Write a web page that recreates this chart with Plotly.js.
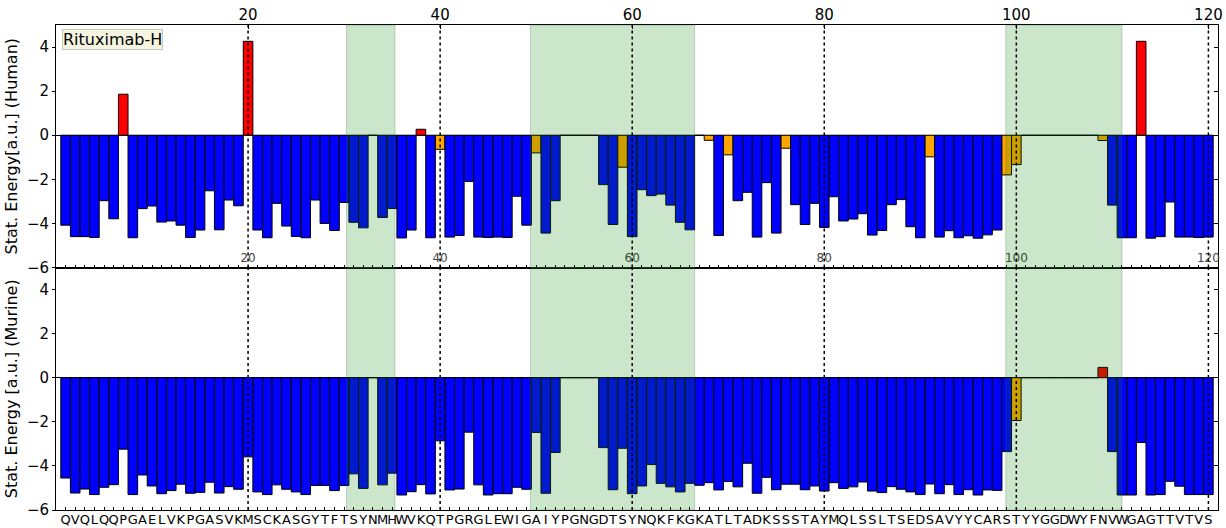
<!DOCTYPE html>
<html>
<head>
<meta charset="utf-8">
<script src="https://cdn.plot.ly/plotly-3.0.1.min.js"></script>
<style>html,body{margin:0;padding:0;background:#fff;}</style>
</head>
<body>
<div id="chart" style="width:1226px;height:528px;"></div>
<script>
// Residue sequence (x tick labels), positions 1..120
const residues = ["Q","V","Q","L","Q","Q","P","G","A","E","L","V","K","P","G","A","S","V","K","M",
  "S","C","K","A","S","G","Y","T","F","T","S","Y","N","M","H","W","V","K","Q","T",
  "P","G","R","G","L","E","W","I","G","A","I","Y","P","G","N","G","D","T","S","Y",
  "N","Q","K","F","K","G","K","A","T","L","T","A","D","K","S","S","S","T","A","Y",
  "M","Q","L","S","S","L","T","S","E","D","S","A","V","Y","Y","C","A","R","S","T",
  "Y","Y","G","G","D","W","Y","F","N","V","W","G","A","G","T","T","V","T","V","S"];
const positions = residues.map((r, i) => i + 1);

// Statistical energy, human germline model
const human = [
  -4.08,-4.60,-4.60,-4.64,-2.97,-3.79, 1.86,-4.65,-3.33,-3.21,
  -3.94,-3.89,-4.08,-4.64,-4.30,-2.52,-4.29,-2.94,-3.20, 4.26,
  -4.30,-4.65,-3.09,-4.12,-4.59,-4.65,-2.94,-4.00,-4.32,-3.05,
  -3.95,-4.20, 0.00,-3.73,-3.32,-4.66,-4.30, 0.27,-4.65,-0.64,
  -4.62,-4.55,-2.10,-4.62,-4.64,-4.62,-4.64,-2.77,-4.08,-0.80,
  -4.44,-2.97, 0.00, 0.00, 0.00, 0.00,-2.24,-4.05,-1.45,-4.60,
  -2.47,-2.74,-2.67,-3.17,-3.95,-4.29, 0.00,-0.23,-4.55,-0.89,
  -2.97,-2.59,-4.62,-2.15,-4.44,-0.59,-3.15,-4.05,-3.09,-4.18,
  -2.79,-3.89,-3.80,-3.56,-4.53,-4.32,-3.15,-2.92,-4.15,-4.65,
  -0.98,-4.62,-4.33,-4.65,-4.56,-4.67,-4.52,-4.30,-1.80,-1.33,
   0.00, 0.00, 0.00, 0.00, 0.00, 0.00, 0.00, 0.00,-0.24,-3.17,
  -4.65,-4.65, 4.26,-4.67,-4.60,-3.03,-4.62,-4.62,-4.64,-4.62];

// Statistical energy, murine germline model
const murine = [
  -4.55,-5.23,-5.05,-5.30,-4.97,-4.85,-3.24,-5.30,-4.41,-4.91,
  -5.26,-5.12,-4.83,-5.24,-5.20,-4.74,-5.23,-4.94,-5.06,-3.59,
  -5.18,-5.30,-4.86,-5.06,-5.18,-5.30,-4.89,-4.89,-5.12,-4.89,
  -4.36,-5.02, 0.00,-4.86,-4.33,-5.32,-5.17,-4.85,-5.27,-2.86,
  -5.09,-5.05,-2.47,-4.86,-5.32,-5.26,-5.26,-4.97,-5.06,-2.48,
  -5.24,-3.39, 0.00, 0.00, 0.00, 0.00,-3.17,-5.08,-3.20,-5.26,
  -4.91,-3.94,-4.79,-4.95,-5.18,-4.79,-4.88,-4.76,-5.09,-4.71,
  -4.95,-3.88,-5.24,-4.52,-5.08,-4.83,-4.83,-5.08,-4.91,-5.14,
  -4.76,-5.02,-4.95,-4.73,-5.14,-5.21,-4.94,-5.06,-5.18,-5.30,
  -4.82,-5.26,-4.85,-5.30,-5.08,-5.32,-5.09,-5.11,-3.35,-1.94,
   0.00, 0.00, 0.00, 0.00, 0.00, 0.00, 0.00, 0.00, 0.47,-3.35,
  -5.32,-5.32,-2.94,-5.32,-5.30,-4.70,-4.92,-5.30,-5.30,-5.30];

// CDR regions (shaded spans, in residue-position units)
const cdrStart = [30.25, 49.4, 98.9];
const cdrEnd   = [35.3, 66.5, 111.0];

// Tick values
const gridTicks = [20, 40, 60, 80, 100, 120];
const yTicks = [-6, -4, -2, 0, 2, 4];

const panelLabel = "Rituximab-H";
const yTitleTop = "Stat. Energy[a.u.] (Human)";
const yTitleBottom = "Stat. Energy [a.u.] (Murine)";

function barColor(v) {
  if (v > 0) return "#ff0000";
  if (v > -2) return "#ffa500";
  return "#0000ff";
}

const FONT = "DejaVu Sans, Liberation Sans, sans-serif";

const traces = [
  {
    type: "bar", x: positions, y: murine, xaxis: "x", yaxis: "y",
    width: 1, marker: { color: murine.map(barColor), line: { color: "black", width: 1 } },
    hoverinfo: "skip"
  },
  {
    type: "bar", x: positions, y: human, xaxis: "x2", yaxis: "y2",
    width: 1, marker: { color: human.map(barColor), line: { color: "black", width: 1 } },
    hoverinfo: "skip"
  },
  { type: "scatter", x: [null], y: [null], xaxis: "x3", yaxis: "y2", hoverinfo: "skip", showlegend: false },
  { type: "scatter", x: [null], y: [null], xaxis: "x", yaxis: "y3", hoverinfo: "skip", showlegend: false },
  { type: "scatter", x: [null], y: [null], xaxis: "x2", yaxis: "y4", hoverinfo: "skip", showlegend: false }
];

const shapes = [];
const panels = [["x", "y domain"], ["x2", "y2 domain"]];
panels.forEach(([xr, yr]) => {
  cdrStart.forEach((s, i) => {
    shapes.push({
      type: "rect", xref: xr, yref: yr, x0: s, x1: cdrEnd[i], y0: 0, y1: 1,
      fillcolor: "rgba(0,128,0,0.2)", line: { color: "rgba(60,90,60,0.25)", width: 1 }, layer: "above"
    });
  });
  gridTicks.forEach(g => {
    shapes.push({
      type: "line", xref: xr, yref: yr, x0: g, x1: g, y0: 0, y1: 1,
      line: { color: "black", width: 1.5, dash: "dot" }, layer: "above"
    });
  });
});

const yBase = {
  range: [-6, 5], tickmode: "array", tickvals: yTicks, ticks: "outside", ticklen: 3,
  tickcolor: "black", showline: true, linecolor: "black", linewidth: 1, mirror: true,
  showgrid: false, zeroline: true, zerolinecolor: "black", zerolinewidth: 1,
  tickfont: { size: 15 }, fixedrange: true
};
const yRight = {
  range: [-6, 5], tickmode: "array", tickvals: yTicks, ticks: "inside", ticklen: 4,
  tickcolor: "black", showticklabels: false, showline: false, showgrid: false, zeroline: false,
  side: "right", fixedrange: true
};

const layout = {
  width: 1226, height: 528,
  margin: { l: 56, r: 8, t: 25, b: 18, pad: 0 },
  paper_bgcolor: "white", plot_bgcolor: "white",
  font: { family: FONT, color: "black", size: 15 },
  showlegend: false, bargap: 0,
  xaxis: {
    domain: [0, 1], anchor: "y", range: [0, 121], tickmode: "array",
    tickvals: positions, ticktext: residues, ticks: "inside", ticklen: 3, tickcolor: "black",
    showline: true, linecolor: "black", linewidth: 1, mirror: true, showgrid: false,
    zeroline: false, tickangle: 0, tickfont: { size: 13 }, ticklabelstandoff: -3,
    fixedrange: true
  },
  yaxis: Object.assign({}, yBase, {
    domain: [0, 0.5], anchor: "x",
    title: { text: yTitleBottom, font: { size: 16 }, standoff: 5 }
  }),
  xaxis2: {
    domain: [0, 1], anchor: "y2", side: "top", range: [0, 121], tickmode: "array",
    tickvals: gridTicks, ticks: "inside", ticklen: 4, tickcolor: "black",
    showline: true, linecolor: "black", linewidth: 1, mirror: true, showgrid: false,
    zeroline: false, tickangle: 0, tickfont: { size: 15 }, ticklabelstandoff: -2,
    fixedrange: true
  },
  yaxis2: Object.assign({}, yBase, {
    domain: [0.5, 1], anchor: "x2",
    title: { text: yTitleTop, font: { size: 16 }, standoff: 5 }
  }),
  xaxis3: {
    overlaying: "x2", anchor: "y2", side: "bottom", range: [0, 121], tickmode: "array",
    tickvals: positions, ticktext: positions.map(p => (gridTicks.includes(p) ? String(p) : "")),
    ticks: "inside", ticklen: 3, tickcolor: "black", ticklabelposition: "inside",
    ticklabeloverflow: "allow",
    tickfont: { size: 12 }, showline: false, showgrid: false, zeroline: false, tickangle: 0,
    fixedrange: true
  },
  yaxis3: Object.assign({}, yRight, { overlaying: "y", anchor: "x" }),
  yaxis4: Object.assign({}, yRight, { overlaying: "y2", anchor: "x2" }),
  shapes: shapes,
  annotations: [
    {
      text: panelLabel, xref: "x2 domain", yref: "y2 domain", x: 0.005, y: 0.984,
      xanchor: "left", yanchor: "top", showarrow: false, font: { size: 16 },
      bgcolor: "#f5f5e2", bordercolor: "#c9c9b8", borderwidth: 1, borderpad: 0
    }
  ]
};

Plotly.newPlot("chart", traces, layout, { displayModeBar: false, staticPlot: true });
</script>
</body>
</html>
